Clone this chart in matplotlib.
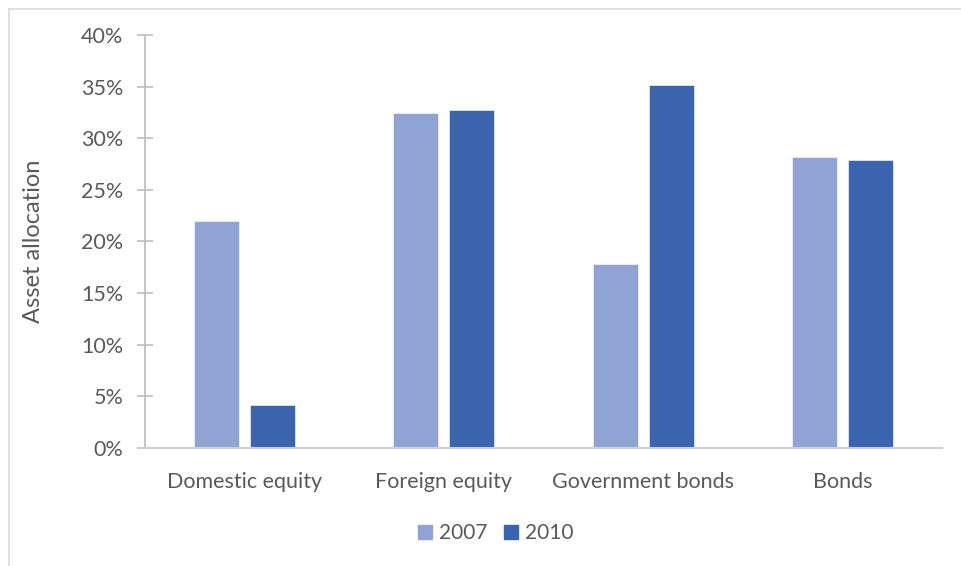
import matplotlib
matplotlib.use("Agg")
import matplotlib.pyplot as plt
import numpy as np
from matplotlib.patches import Rectangle
from matplotlib.lines import Line2D

categories = ["Domestic equity", "Foreign equity", "Government bonds", "Bonds"]
series_names = ["2007", "2010"]
values_2007 = [22.0, 32.4, 17.8, 28.2]
values_2010 = [4.2, 32.7, 35.2, 27.9]
yticks = [0, 5, 10, 15, 20, 25, 30, 35, 40]

plt.rcParams['font.family'] = ['Lato', 'DejaVu Sans']
grey = "#595959"
c07 = "#8FA4D4"
c10 = "#3A64AD"

fig = plt.figure(figsize=(9.62, 5.66), dpi=100)
W, H = 962, 566
ax = fig.add_axes([145 / W, 1 - 448 / H, (942 - 145) / W, (448 - 35) / H])

x = np.arange(len(categories))
bw = 0.226
off = 0.141
ax.bar(x - off, values_2007, bw, color=c07, label=series_names[0], edgecolor="white", linewidth=0.4)
ax.bar(x + off, values_2010, bw, color=c10, label=series_names[1], edgecolor="white", linewidth=0.4)

ax.set_xlim(-0.5, len(categories) - 0.5)
ax.set_ylim(0, 40)
ax.set_yticks(yticks)
ax.set_yticklabels([f"{t}%" for t in yticks])
ax.set_xticks(x)
ax.set_xticklabels(categories)

for s in ["top", "right"]:
    ax.spines[s].set_visible(False)
ax.spines["left"].set_color("#BFBFBF")
ax.spines["bottom"].set_color("#D0D0D0")
ax.spines["left"].set_linewidth(1.3)
ax.spines["bottom"].set_linewidth(1.5)
ax.tick_params(axis="y", direction="inout", length=11, width=1.2, color="#BFBFBF",
               labelsize=15.5, labelcolor=grey, pad=10)
ax.tick_params(axis="x", length=0, labelsize=15.5, labelcolor=grey, pad=17)
ax.set_ylabel("Asset allocation", fontsize=17, color=grey, labelpad=27)

handles = [Rectangle((0, 0), 1, 1, color=c07), Rectangle((0, 0), 1, 1, color=c10)]
fig.legend(handles, series_names, loc="center", bbox_to_anchor=(496 / W, 1 - 533 / H),
           ncol=2, frameon=False, fontsize=15, labelcolor=grey,
           handlelength=0.65, handleheight=0.65, handletextpad=0.35, columnspacing=0.8)

# chart area border (top and left visible)
fig.add_artist(Line2D([9 / W, 1.0], [1 - 8.5 / H, 1 - 8.5 / H], color="#D9D9D9", linewidth=1.2,
                      transform=fig.transFigure))
fig.add_artist(Line2D([9 / W, 9 / W], [0.0, 1 - 8.5 / H], color="#D9D9D9", linewidth=1.2,
                      transform=fig.transFigure))

fig.savefig("out.png", dpi=100)
